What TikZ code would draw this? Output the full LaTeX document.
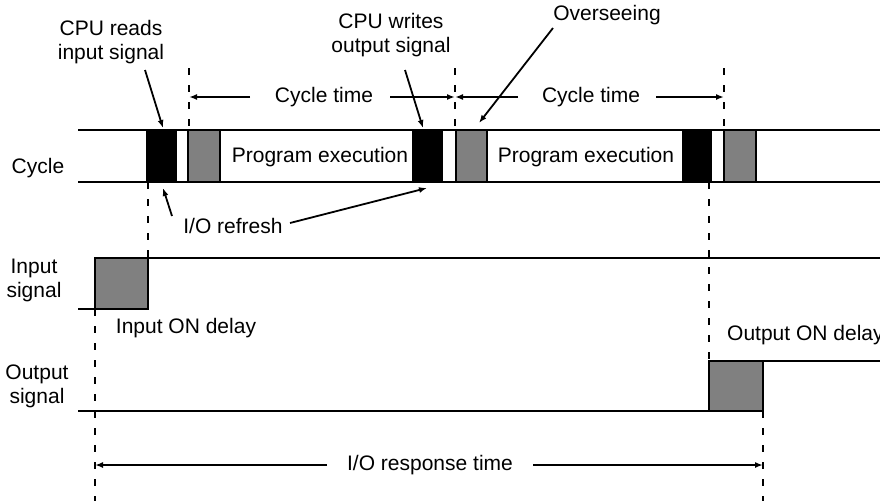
\documentclass[tikz,border=0pt]{standalone}
\usepackage{fontspec}
\setmainfont{Liberation Sans}
\usetikzlibrary{arrows.meta}
\begin{document}
\begin{tikzpicture}[x=1pt,y=-1pt,
  ln/.style={line width=1.8pt},
  dashln/.style={line width=1.8pt, dash pattern=on 7pt off 10pt},
  arr/.style={line width=1.8pt,-{Latex[length=8pt,width=6pt]}},
  lbl/.style={font=\fontsize{21}{24}\selectfont, inner sep=0pt, align=center},
  blk/.style={fill=black, draw=black, line width=1.8pt},
  gry/.style={fill=gray, draw=black, line width=1.8pt}]
\useasboundingbox (0,0) rectangle (880,501);

% cycle band
\draw[ln] (78,130) -- (880,130);
\draw[ln] (78,182) -- (880,182);
\draw[blk] (147,130) rectangle (176,182);
\draw[gry] (188,130) rectangle (220,182);
\draw[blk] (413,130) rectangle (442,182);
\draw[gry] (456,130) rectangle (487,182);
\draw[blk] (683,130) rectangle (711,182);
\draw[gry] (724,130) rectangle (756,182);

% labels
\node[lbl] (cyc) at (38,168) {Cycle};
\node[lbl] (pe1) at (320,157) {Program execution};
\node[lbl] (pe2) at (586,157) {Program execution};
\node[lbl] (rd) at (111,42) {CPU reads\\input signal};
\node[lbl] (wr) at (391,35) {CPU writes\\output signal};
\node[lbl] (ov) at (607,15) {Overseeing};
\node[lbl] (ct1) at (324,97) {Cycle time};
\node[lbl] (ct2) at (591,97) {Cycle time};
\node[lbl] (io) at (233,226) {I/O refresh};
\node[lbl] (ins) at (34,280) {Input\\signal};
\node[lbl] (outs) at (37,386) {Output\\signal};
\node[lbl] (ind) at (186,328) {Input ON delay};
\node[lbl, anchor=west] (outd) at (727,335) {Output ON delay};
\node[lbl] (resp) at (430,465) {I/O response time};

% dashed guides
\draw[dashln] (189,68) -- (189,130);
\draw[dashln] (455,68) -- (455,130);
\draw[dashln] (724,68) -- (724,130);
\draw[dashln] (148,182) -- (148,258);
\draw[dashln] (709,182) -- (709,361);
\draw[dashln] (95,309) -- (95,501);
\draw[dashln] (763,411) -- (763,501);

% signals
\draw[ln] (78,309) -- (95,309);
\draw[gry] (95,258) rectangle (148,309);
\draw[ln] (148,258) -- (880,258);
\draw[ln] (78,411) -- (709,411);
\draw[gry] (709,361) rectangle (763,411);
\draw[ln] (763,361) -- (880,361);

% cycle time arrows
\coordinate (c1l) at (250,97);
\coordinate (c1r) at (390,97);
\coordinate (c2l) at (518,97);
\coordinate (c2r) at (656,97);
\draw[arr] (c1l) -- (189,97);
\draw[arr] (c1r) -- (455,97);
\draw[arr] (c2l) -- (455,97);
\draw[arr] (c2r) -- (724,97);

% pointer arrows
\coordinate (rdS) at (145,70);
\coordinate (rdT) at (163,128);
\draw[arr] (rdS) -- (rdT);
\coordinate (wrS) at (405,70);
\coordinate (wrT) at (423,128);
\draw[arr] (wrS) -- (wrT);
\coordinate (ovS) at (553,28);
\coordinate (ovT) at (479,123);
\draw[arr] (ovS) -- (ovT);
\coordinate (io1S) at (172,216);
\coordinate (io1T) at (163,188);
\draw[arr] (io1S) -- (io1T);
\coordinate (io2S) at (290,223);
\coordinate (io2T) at (427,188);
\draw[arr] (io2S) -- (io2T);

% response arrows
\coordinate (rl) at (327,465);
\coordinate (rr) at (533,465);
\draw[arr] (rl) -- (95,465);
\draw[arr] (rr) -- (763,465);
\end{tikzpicture}
\end{document}
